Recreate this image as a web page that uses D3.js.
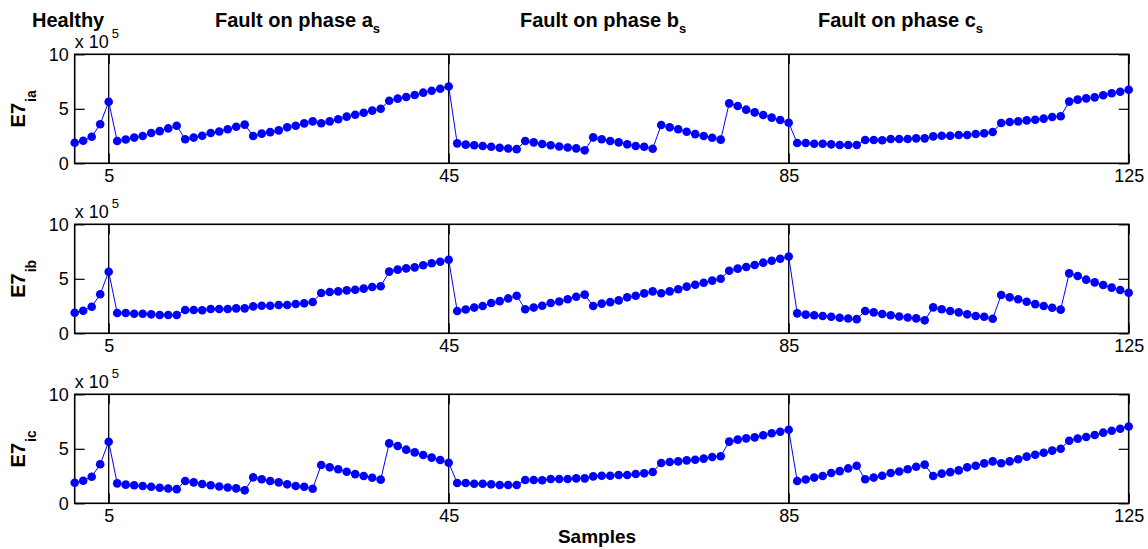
<!DOCTYPE html>
<html>
<head>
<meta charset="utf-8">
<script src="https://cdn.jsdelivr.net/npm/d3@7"></script>
<style>
  body { margin: 0; background: #fff; }
  svg { display: block; font-family: "Liberation Sans", Arial, sans-serif; }
</style>
</head>
<body>
<svg id="chart" width="1148" height="549"></svg>
<script>
// Sample values (x 10^5)
const healthy = [1.89, 2.07, 2.44, 3.58, 5.65];

// rising sawtooth (5 groups of 8)
const faultRise = [
  2.05, 2.18, 2.36, 2.50, 2.78, 2.95, 3.20, 3.45,
  2.20, 2.36, 2.53, 2.78, 2.92, 3.12, 3.35, 3.55,
  2.50, 2.72, 2.86, 3.02, 3.30, 3.45, 3.66, 3.85,
  3.67, 3.85, 4.04, 4.28, 4.46, 4.64, 4.83, 5.01,
  5.74, 5.93, 6.08, 6.26, 6.48, 6.66, 6.84, 7.05
];

// decreasing sawtooth
const faultDecay = [
  1.83, 1.71, 1.65, 1.59, 1.52, 1.42, 1.36, 1.30,
  2.05, 1.92, 1.77, 1.65, 1.54, 1.45, 1.37, 1.19,
  2.38, 2.20, 2.05, 1.92, 1.74, 1.59, 1.52, 1.34,
  3.52, 3.30, 3.12, 2.90, 2.68, 2.50, 2.35, 2.17,
  5.50, 5.26, 4.92, 4.67, 4.43, 4.19, 3.97, 3.72
];

// slow steps
const faultSteps = [
  1.86, 1.86, 1.80, 1.80, 1.74, 1.68, 1.68, 1.68,
  2.14, 2.14, 2.11, 2.23, 2.23, 2.23, 2.29, 2.29,
  2.47, 2.53, 2.53, 2.60, 2.60, 2.69, 2.75, 2.87,
  3.70, 3.79, 3.85, 3.94, 4.00, 4.10, 4.25, 4.31,
  5.66, 5.84, 5.96, 6.05, 6.24, 6.42, 6.57, 6.75
];

const panelLabels = ["ia", "ib", "ic"];
const panelSeries = [
  healthy.concat(faultRise, faultDecay, faultSteps),
  healthy.concat(faultSteps, faultRise, faultDecay),
  healthy.concat(faultDecay, faultSteps, faultRise)
];

const xTicks = [5, 45, 85, 125];
const yTicks = [0, 5, 10];
const dividers = [5, 45, 85];
const sectionTitles = [
  { text: "Fault on phase a", sub: "s", x: 215 },
  { text: "Fault on phase b", sub: "s", x: 520 },
  { text: "Fault on phase c", sub: "s", x: 818 }
];

// layout
const left = 74.7, right = 1128.7;
const panelTops = [54.3, 224.3, 394.3];
const panelH = 109;

const svg = d3.select("#chart");
svg.append("rect").attr("width", 1148).attr("height", 549).attr("fill", "#fff");

const x = d3.scaleLinear().domain([1, 125]).range([left, right]);

panelSeries.forEach((values, i) => {
  const top = panelTops[i];
  const y = d3.scaleLinear().domain([0, 10]).range([top + panelH, top]);
  const g = svg.append("g");

  // axes (ticks point inward, like the original)
  const styleAxis = sel => {
    sel.select(".domain").remove();
    sel.selectAll("line").attr("stroke", "#000").attr("stroke-width", 1.2);
    sel.selectAll("text").attr("fill", "#000").attr("font-size", 18);
  };
  g.append("g").attr("transform", `translate(${left},0)`)
    .call(d3.axisLeft(y).tickValues(yTicks).tickSize(-10).tickPadding(6))
    .call(styleAxis);
  g.append("g").attr("transform", `translate(${right},0)`)
    .call(d3.axisRight(y).tickValues(yTicks).tickSize(-10).tickFormat(""))
    .call(styleAxis);
  g.append("g").attr("transform", `translate(0,${top + panelH})`)
    .call(d3.axisBottom(x).tickValues(xTicks).tickSize(-10).tickPadding(6))
    .call(styleAxis);
  g.append("g").attr("transform", `translate(0,${top})`)
    .call(d3.axisTop(x).tickValues(xTicks).tickSize(-10).tickFormat(""))
    .call(styleAxis);

  // box
  g.append("rect")
    .attr("x", left).attr("y", top)
    .attr("width", right - left).attr("height", panelH)
    .attr("fill", "none").attr("stroke", "#000").attr("stroke-width", 1.6);

  // divider lines
  g.selectAll(".div").data(dividers).enter().append("line")
    .attr("x1", d => x(d)).attr("x2", d => x(d))
    .attr("y1", top).attr("y2", top + panelH)
    .attr("stroke", "#000").attr("stroke-width", 1.3);

  // series
  const line = d3.line().x((d, k) => x(k + 1)).y(d => y(d));
  g.append("path").datum(values)
    .attr("d", line).attr("fill", "none")
    .attr("stroke", "#0000ff").attr("stroke-width", 1);
  g.selectAll(".pt").data(values).enter().append("circle")
    .attr("cx", (d, k) => x(k + 1)).attr("cy", d => y(d))
    .attr("r", 4.3).attr("fill", "#0000ff");

  // exponent label
  const ex = g.append("text").attr("x", left).attr("y", top - 6)
    .attr("font-size", 18).attr("fill", "#000");
  ex.append("tspan").text("x 10");
  ex.append("tspan").attr("dx", 3).attr("dy", -10).attr("font-size", 13).text("5");

  // y label
  const yl = g.append("text")
    .attr("transform", `translate(25,${top + panelH / 2}) rotate(-90)`)
    .attr("text-anchor", "middle").attr("font-weight", "bold")
    .attr("font-size", 20).attr("fill", "#000");
  yl.append("tspan").text("E7");
  yl.append("tspan").attr("dy", 11).attr("dx", 1).attr("font-size", 14).text(panelLabels[i]);
});

// section titles
svg.append("text").attr("x", 32).attr("y", 27)
  .attr("font-weight", "bold").attr("font-size", 20).text("Healthy");
sectionTitles.forEach(t => {
  const tt = svg.append("text").attr("x", t.x).attr("y", 27)
    .attr("font-weight", "bold").attr("font-size", 20);
  tt.append("tspan").text(t.text);
  tt.append("tspan").attr("dy", 6).attr("font-size", 13).text(t.sub);
});

// x label
svg.append("text").attr("x", 597).attr("y", 543)
  .attr("text-anchor", "middle").attr("font-weight", "bold")
  .attr("font-size", 19).text("Samples");
</script>
</body>
</html>
